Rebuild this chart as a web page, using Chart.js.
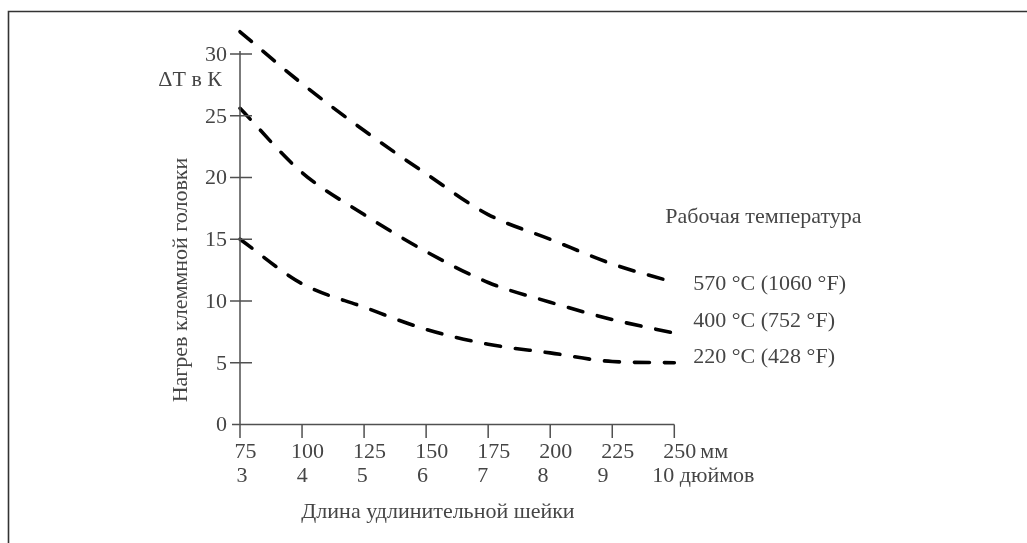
<!DOCTYPE html>
<html>
<head>
<meta charset="utf-8">
<script src="https://cdn.jsdelivr.net/npm/chart.js@4/dist/chart.umd.min.js"></script>
<style>
  html, body { margin: 0; padding: 0; background: #fff; }
  canvas { display: block; }
</style>
</head>
<body>
<canvas id="c" width="1027" height="543"></canvas>
<script>
// ---- data ----
const lengthsMm = [75, 100, 125, 150, 175, 200, 225, 250];
const lengthsInch = ['3', '4', '5', '6', '7', '8', '9', '10'];
const yTicks = [0, 5, 10, 15, 20, 25, 30];
const series570 = [31.8, 27.6, 23.8, 20.3, 17.0, 15.0, 13.0, 11.5];
const series400 = [25.6, 20.4, 17.0, 14.0, 11.5, 9.9, 8.5, 7.4];
const series220 = [15.0, 11.4, 9.5, 7.7, 6.5, 5.8, 5.1, 5.0];
const seriesLabels = ['570 °C (1060 °F)', '400 °C (752 °F)', '220 °C (428 °F)'];
const legendTitle = 'Рабочая температура';
const yTitle = 'Нагрев клеммной головки';
const yUnit = 'ΔT в К';
const xTitle = 'Длина удлинительной шейки';
const mmUnit = 'мм';
const inchUnit = ' дюймов';

const FONT = '"Liberation Serif", "DejaVu Serif", serif';
const TEXT = '#454545';
const AXIS = '#505050';

function mk(data, label) {
  return {
    label, data: lengthsMm.map((x, i) => ({ x, y: data[i] })),
    borderColor: '#000', borderWidth: 3.6, borderDash: [15, 15],
    borderCapStyle: 'round', pointRadius: 0, fill: false,
    cubicInterpolationMode: 'monotone', clip: false
  };
}

const decor = {
  id: 'decor',
  afterDraw(chart) {
    const ctx = chart.ctx;
    const xs = chart.scales.x, ys = chart.scales.y;
    const px = v => xs.getPixelForValue(v);
    const py = v => ys.getPixelForValue(v);
    ctx.save();
    // frame (top/left)
    ctx.strokeStyle = '#333'; ctx.lineWidth = 1.6;
    ctx.beginPath(); ctx.moveTo(8.5, 543); ctx.lineTo(8.5, 11.5); ctx.lineTo(1027, 11.5); ctx.stroke();
    // axes
    ctx.strokeStyle = AXIS; ctx.lineWidth = 1.5;
    const x0 = px(lengthsMm[0]), x1 = px(lengthsMm[lengthsMm.length - 1]);
    const y0 = py(0), yTop = py(30);
    ctx.beginPath();
    ctx.moveTo(x0, yTop - 3); ctx.lineTo(x0, y0 + 13);
    ctx.moveTo(x0 - 8, y0); ctx.lineTo(x1, y0);
    // y ticks
    yTicks.forEach(v => { if (v > 0) { ctx.moveTo(x0 - 10, py(v)); ctx.lineTo(x0 + 12, py(v)); } });
    // x ticks
    lengthsMm.forEach(v => { ctx.moveTo(px(v), y0); ctx.lineTo(px(v), y0 + 13.5); });
    ctx.stroke();

    ctx.fillStyle = TEXT;
    ctx.font = '22px ' + FONT;
    ctx.textBaseline = 'middle';
    // y tick labels
    ctx.textAlign = 'right';
    yTicks.forEach(v => ctx.fillText(String(v), x0 - 13, py(v) + 1));
    // unit label
    ctx.fillText(yUnit, x0 - 18, py(30) + 26);
    // x tick labels (mm)
    ctx.textAlign = 'center';
    lengthsMm.forEach(v => ctx.fillText(String(v), px(v) + 5.5, y0 + 28));
    const lastMm = String(lengthsMm[lengthsMm.length - 1]);
    const wLast = ctx.measureText(lastMm).width;
    ctx.textAlign = 'left';
    ctx.fillText(mmUnit, px(lengthsMm[lengthsMm.length - 1]) + 5.5 + wLast / 2 + 4, y0 + 28);
    // inch labels
    ctx.textAlign = 'center';
    const n = lengthsInch.length;
    const a = x0 + 2, b = x1 - 11;
    lengthsInch.forEach((t, i) => ctx.fillText(t, a + (b - a) * i / (n - 1), y0 + 52));
    const wIn = ctx.measureText(lengthsInch[n - 1]).width;
    ctx.textAlign = 'left';
    ctx.fillText(inchUnit, b + wIn / 2, y0 + 52);
    // x title
    ctx.textAlign = 'center';
    ctx.fillText(xTitle, (x0 + 636) / 2 + 0, y0 + 88);
    // legend
    ctx.textAlign = 'left';
    const lx = x1 + 19;
    ctx.fillText(legendTitle, x1 - 9, 217);
    ctx.fillText(seriesLabels[0], lx, 284);
    ctx.fillText(seriesLabels[1], lx, 321);
    ctx.fillText(seriesLabels[2], lx, 357);
    // y title rotated
    ctx.save();
    ctx.translate(181, 280);
    ctx.rotate(-Math.PI / 2);
    ctx.textAlign = 'center';
    ctx.fillText(yTitle, 0, 0);
    ctx.restore();
    ctx.restore();
  }
};

new Chart(document.getElementById('c'), {
  type: 'line',
  data: { datasets: [mk(series570, seriesLabels[0]), mk(series400, seriesLabels[1]), mk(series220, seriesLabels[2])] },
  options: {
    responsive: false, animation: false,
    layout: { padding: { left: 240, right: 352.7, top: 54, bottom: 118.5 } },
    plugins: { legend: { display: false }, tooltip: { enabled: false } },
    scales: {
      x: { type: 'linear', min: 75, max: 250, display: false },
      y: { type: 'linear', min: 0, max: 30, display: false }
    }
  },
  plugins: [decor]
});
</script>
</body>
</html>
